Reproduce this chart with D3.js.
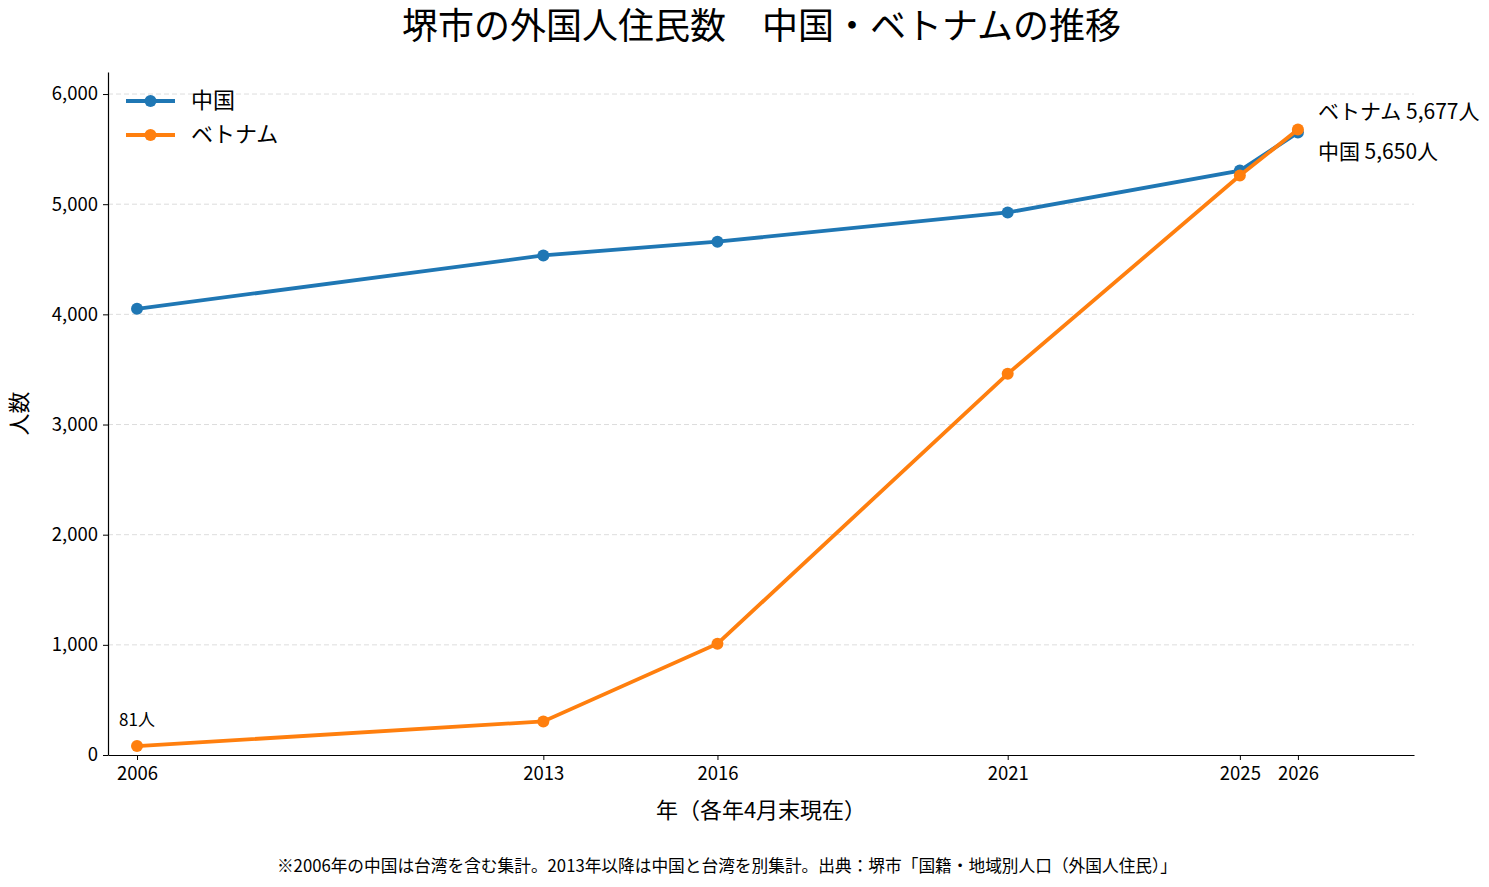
<!DOCTYPE html>
<html>
<head>
<meta charset="utf-8">
<script src="https://cdn.jsdelivr.net/npm/d3@7"></script>
<style>
  body { margin: 0; background: #fff; }
  svg text { font-family: "Noto Sans CJK JP", "Noto Sans", sans-serif; fill: #000; }
</style>
</head>
<body>
<div id="app"></div>
<script>
const years = [2006, 2013, 2016, 2021, 2025, 2026];
const china = [4050, 4535, 4660, 4925, 5305, 5650];
const vietnam = [81, 305, 1010, 3460, 5260, 5677];
const seriesNames = ["中国", "ベトナム"];
const colors = ["#1f77b4", "#ff7f0e"];
const yTicks = [0, 1000, 2000, 3000, 4000, 5000, 6000];

const width = 1489, height = 887;
const margin = { top: 72, right: 75, bottom: 132, left: 108 };

const svg = d3.select("#app").append("svg")
  .attr("width", width).attr("height", height);

const x = d3.scaleLinear().domain([2005.5, 2028]).range([margin.left, width - margin.right]);
const y = d3.scaleLinear().domain([0, 6200]).range([height - margin.bottom, margin.top]);

// gridlines
svg.append("g")
  .selectAll("line")
  .data(yTicks.slice(1))
  .enter()
  .append("line")
  .attr("x1", margin.left)
  .attr("x2", width - margin.right)
  .attr("y1", d => y(d))
  .attr("y2", d => y(d))
  .attr("stroke", "#d9d9d9")
  .attr("stroke-dasharray", "5,3")
  .attr("stroke-width", 0.9);

const xAxis = svg.append("g")
  .attr("transform", `translate(0, ${height - margin.bottom})`)
  .call(d3.axisBottom(x).tickValues(years).tickFormat(d3.format("d")).tickSize(5).tickPadding(7).tickSizeOuter(0));
xAxis.select(".domain").attr("stroke", "#000").attr("stroke-width", 1.2);
xAxis.selectAll("text").attr("font-size", 18.5);

const yAxis = svg.append("g")
  .attr("transform", `translate(${margin.left}, 0)`)
  .call(d3.axisLeft(y).tickValues(yTicks).tickFormat(d3.format(",")).tickSize(5).tickPadding(5).tickSizeOuter(0));
yAxis.select(".domain").attr("stroke", "#000").attr("stroke-width", 1.2);
yAxis.selectAll("text").attr("font-size", 18.5);

const data = [china, vietnam];
const line = d3.line().x((d, i) => x(years[i])).y(d => y(d));

data.forEach((vals, s) => {
  svg.append("path")
    .datum(vals)
    .attr("fill", "none")
    .attr("stroke", colors[s])
    .attr("stroke-width", 3.8)
    .attr("d", line);
  svg.append("g")
    .selectAll("circle")
    .data(vals)
    .enter()
    .append("circle")
    .attr("cx", (d, i) => x(years[i]))
    .attr("cy", d => y(d))
    .attr("r", 6)
    .attr("fill", colors[s]);
});

// annotations
const last = years.length - 1;
svg.append("text")
  .attr("x", x(years[last]) + 20)
  .attr("y", y(vietnam[last]) - 16)
  .attr("font-size", 21)
  .attr("dominant-baseline", "middle")
  .text(`ベトナム ${d3.format(",")(vietnam[last])}人`);
svg.append("text")
  .attr("x", x(years[last]) + 20)
  .attr("y", y(china[last]) + 21)
  .attr("font-size", 21)
  .attr("dominant-baseline", "middle")
  .text(`中国 ${d3.format(",")(china[last])}人`);
svg.append("text")
  .attr("x", x(years[0]))
  .attr("y", y(vietnam[0]) - 25)
  .attr("font-size", 17)
  .attr("text-anchor", "middle")
  .attr("dominant-baseline", "middle")
  .text(`${vietnam[0]}人`);

// legend
seriesNames.forEach((name, i) => {
  const ly = 101 + i * 34;
  svg.append("line")
    .attr("x1", 126).attr("x2", 175)
    .attr("y1", ly).attr("y2", ly)
    .attr("stroke", colors[i]).attr("stroke-width", 3.8);
  svg.append("circle")
    .attr("cx", 150.5).attr("cy", ly).attr("r", 6).attr("fill", colors[i]);
  svg.append("text")
    .attr("x", 191).attr("y", ly + 1)
    .attr("font-size", 22)
    .attr("dominant-baseline", "middle")
    .text(name);
});

// titles
svg.append("text")
  .attr("x", width / 2 + 17).attr("y", 39)
  .attr("text-anchor", "middle")
  .attr("font-size", 36)
  .text("堺市の外国人住民数　中国・ベトナムの推移");

svg.append("text")
  .attr("x", (margin.left + width - margin.right) / 2)
  .attr("y", 812)
  .attr("text-anchor", "middle")
  .attr("dominant-baseline", "middle")
  .attr("font-size", 22)
  .text("年（各年4月末現在）");

svg.append("text")
  .attr("transform", `translate(21, ${(margin.top + height - margin.bottom) / 2}) rotate(-90)`)
  .attr("text-anchor", "middle")
  .attr("dominant-baseline", "middle")
  .attr("font-size", 22)
  .text("人数");

svg.append("text")
  .attr("x", 727).attr("y", 867)
  .attr("text-anchor", "middle")
  .attr("dominant-baseline", "middle")
  .attr("font-size", 16.7)
  .text("※2006年の中国は台湾を含む集計。2013年以降は中国と台湾を別集計。出典：堺市「国籍・地域別人口（外国人住民）」");
</script>
</body>
</html>
